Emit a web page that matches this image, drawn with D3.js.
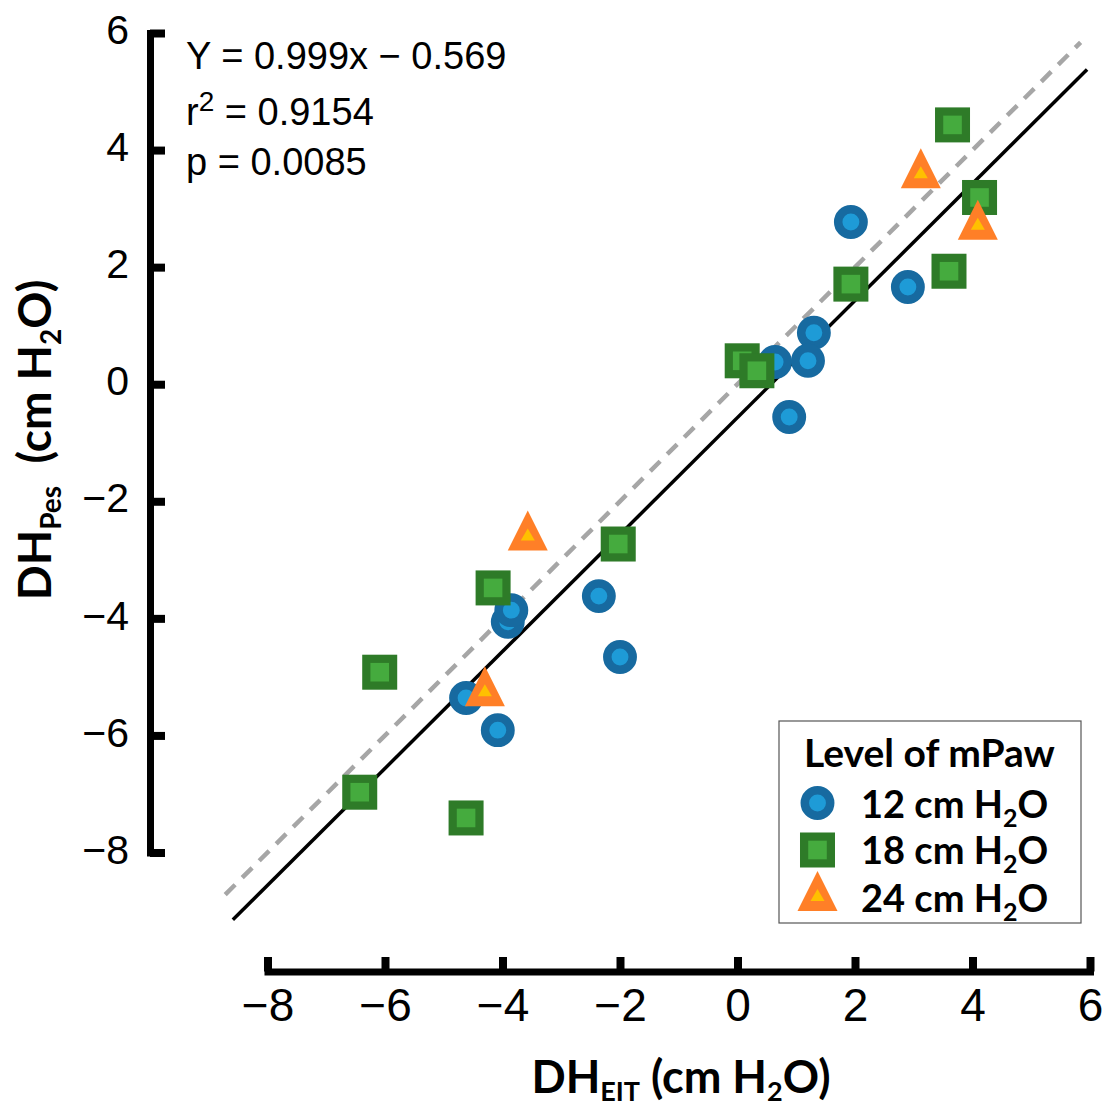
<!DOCTYPE html>
<html>
<head>
<meta charset="utf-8">
<script src="https://cdn.jsdelivr.net/npm/d3@7"></script>
<style>
  html, body { margin: 0; padding: 0; background: #fff; }
  svg { display: block; }
</style>
</head>
<body>
<svg id="chart" width="1104" height="1109"></svg>
<script>
// ---- data ----
const xTicks = [-8, -6, -4, -2, 0, 2, 4, 6];
const yTicks = [-8, -6, -4, -2, 0, 2, 4, 6];

const mPaw12X = [1.93, 2.90, 1.30, 1.20, 0.64, 0.88, -2.36, -2.00, -3.91, -3.85, -4.62, -4.08];
const mPaw12Y = [2.77, 1.66, 0.88, 0.40, 0.38, -0.56, -3.62, -4.66, -4.06, -3.86, -5.36, -5.91];

const mPaw18X = [3.66, 4.12, 3.60, 1.93, 0.08, 0.33, -2.03, -4.16, -6.09, -6.43, -4.62];
const mPaw18Y = [4.43, 3.19, 1.93, 1.71, 0.40, 0.23, -2.73, -3.48, -4.92, -6.97, -7.41];

const mPaw24X = [3.12, 4.09, -3.57, -4.30];
const mPaw24Y = [3.69, 2.81, -2.50, -5.16];

const slope = 0.999, intercept = -0.569;
const regRange = [-8.59, 5.95];
const identityRange = [-8.72, 5.84];

const statLines = ["Y = 0.999x \u2212 0.569", "r", "p = 0.0085"];
const legendTitle = "Level of mPaw";
const legendLabels = ["12 cm H", "18 cm H", "24 cm H"];

// ---- layout ----
const svg = d3.select("#chart");
const x = d3.scaleLinear().domain([-8, 6]).range([267.5, 1090]);
const y = d3.scaleLinear().domain([-8, 6]).range([852.5, 33]);
const yAxisX = 150, xAxisY = 971.5;

const C = {
  blueRing: "#176aa0", blueFill: "#1e9bd7",
  greenRing: "#2e7b28", greenFill: "#45ab3e",
  orange: "#ff7f27", yellow: "#ffc000"
};

// lines
const line = d3.line().x(d => x(d[0])).y(d => y(d[1]));
svg.append("path")
  .attr("d", line(identityRange.map(v => [v, v])))
  .attr("fill", "none").attr("stroke", "#a6a6a6")
  .attr("stroke-width", 4.5).attr("stroke-dasharray", "14,10");
svg.append("path")
  .attr("d", line(regRange.map(v => [v, slope * v + intercept])))
  .attr("fill", "none").attr("stroke", "#000").attr("stroke-width", 3.5);

// marker drawers
function circleMarker(g, cx, cy) {
  g.append("circle").attr("cx", cx).attr("cy", cy).attr("r", 12.7)
    .attr("fill", C.blueFill).attr("stroke", C.blueRing).attr("stroke-width", 8.5);
}
function squareMarker(g, cx, cy) {
  const s = 26.8;
  g.append("rect").attr("x", cx - s / 2).attr("y", cy - s / 2).attr("width", s).attr("height", s)
    .attr("fill", C.greenFill).attr("stroke", C.greenRing).attr("stroke-width", 8.2);
}
function triangleMarker(g, cx, cy) {
  g.append("path")
    .attr("d", `M${cx},${cy - 20}L${cx + 20},${cy + 20}L${cx - 20},${cy + 20}Z`)
    .attr("fill", C.orange);
  g.append("path")
    .attr("d", `M${cx},${cy - 2}L${cx + 7},${cy + 10}L${cx - 7},${cy + 10}Z`)
    .attr("fill", C.yellow);
}

const pts = svg.append("g");
mPaw12X.forEach((v, i) => circleMarker(pts, x(v), y(mPaw12Y[i])));
mPaw18X.forEach((v, i) => squareMarker(pts, x(v), y(mPaw18Y[i])));
mPaw24X.forEach((v, i) => triangleMarker(pts, x(v), y(mPaw24Y[i])));

// axes
const fmt = d => (d < 0 ? "\u2212" + Math.abs(d) : String(d));
const yAxis = svg.append("g").attr("transform", `translate(${yAxisX},0)`)
  .call(d3.axisLeft(y).tickValues(yTicks).tickFormat(fmt).tickSizeInner(-15).tickSizeOuter(0).tickPadding(21));
yAxis.select(".domain").attr("stroke-width", 7).attr("stroke-linecap", "square");
yAxis.selectAll(".tick line").attr("stroke-width", 8);
yAxis.selectAll(".tick text").attr("font-family", "Liberation Sans, Arial, sans-serif")
  .attr("font-size", 41).attr("dy", "0.26em").attr("fill", "#000");

const xAxis = svg.append("g").attr("transform", `translate(0,${xAxisY})`)
  .call(d3.axisBottom(x).tickValues(xTicks).tickFormat(fmt).tickSizeInner(-14.5).tickSizeOuter(0).tickPadding(17));
xAxis.select(".domain").attr("stroke-width", 7).attr("stroke-linecap", "square");
xAxis.selectAll(".tick line").attr("stroke-width", 8);
xAxis.selectAll(".tick text").attr("font-family", "Liberation Sans, Arial, sans-serif")
  .attr("font-size", 46).attr("fill", "#000");

// axis titles
const titleFont = "Lato, 'Open Sans', sans-serif";
const xt = svg.append("text").attr("x", 681).attr("y", 1093).attr("text-anchor", "middle")
  .attr("font-family", titleFont).attr("font-weight", "bold").attr("font-size", 45);
xt.append("tspan").text("DH");
xt.append("tspan").attr("font-size", 27).attr("dy", 8).text("EIT");
xt.append("tspan").attr("dy", -8).text(" (cm H");
xt.append("tspan").attr("font-size", 27).attr("dy", 8).text("2");
xt.append("tspan").attr("dy", -8).text("O)");

const yt = svg.append("text").attr("transform", "translate(51,440) rotate(-90)")
  .attr("text-anchor", "middle")
  .attr("font-family", titleFont).attr("font-weight", "bold").attr("font-size", 46);
yt.append("tspan").text("DH");
yt.append("tspan").attr("font-size", 28).attr("dy", 10).text("Pes");
yt.append("tspan").attr("dy", -10).text("\u00a0\u00a0(cm H");
yt.append("tspan").attr("font-size", 28).attr("dy", 10).text("2");
yt.append("tspan").attr("dy", -10).text("O)");

// stats text
const statFont = "Liberation Sans, Arial, sans-serif";
svg.append("text").attr("x", 186).attr("y", 69).attr("font-family", statFont).attr("font-size", 38).text(statLines[0]);
const r2 = svg.append("text").attr("x", 186).attr("y", 125).attr("font-family", statFont).attr("font-size", 38);
r2.append("tspan").text(statLines[1]);
r2.append("tspan").attr("font-size", 28).attr("dy", -14).text("2");
r2.append("tspan").attr("dy", 14).text(" = 0.9154");
svg.append("text").attr("x", 186).attr("y", 175).attr("font-family", statFont).attr("font-size", 38).text(statLines[2]);

// legend
const lg = svg.append("g");
lg.append("rect").attr("x", 779).attr("y", 721).attr("width", 302).attr("height", 202)
  .attr("fill", "#fff").attr("stroke", "#555").attr("stroke-width", 1.2);
lg.append("text").attr("x", 804).attr("y", 767).attr("font-family", titleFont)
  .attr("font-weight", "bold").attr("font-size", 39).text(legendTitle);
const rowY = [803, 850, 891];
const baseY = [818, 864, 912];
const drawers = [circleMarker, squareMarker, triangleMarker];
legendLabels.forEach((lab, i) => {
  drawers[i](lg, 817.5, rowY[i]);
  const t = lg.append("text").attr("x", 861).attr("y", baseY[i]).attr("font-family", titleFont)
    .attr("font-weight", "bold").attr("font-size", 38);
  t.append("tspan").text(lab);
  t.append("tspan").attr("font-size", 25).attr("dy", 9).text("2");
  t.append("tspan").attr("dy", -9).text("O");
});
</script>
</body>
</html>
